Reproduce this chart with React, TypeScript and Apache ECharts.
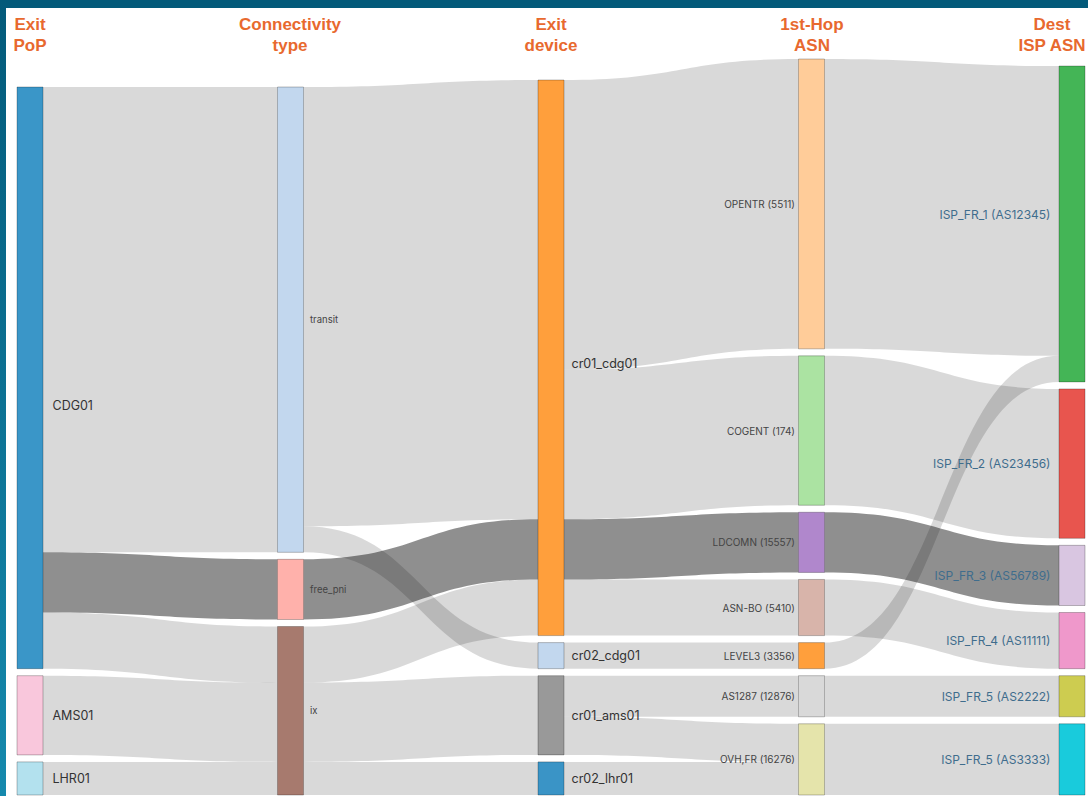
import React, { useEffect, useRef } from "react";
import * as echarts from "echarts";

// ---- data ----
const columnTitles = ["Exit\nPoP", "Connectivity\ntype", "Exit\ndevice", "1st-Hop\nASN", "Dest\nISP ASN"];
const exitPops = ["CDG01", "AMS01", "LHR01"];
const connectivityTypes = ["transit", "free_pni", "ix"];
const exitDevices = ["cr01_cdg01", "cr02_cdg01", "cr01_ams01", "cr02_lhr01"];
const firstHopAsns = [
  "OPENTR (5511)",
  "COGENT (174)",
  "LDCOMN (15557)",
  "ASN-BO (5410)",
  "LEVEL3 (3356)",
  "AS1287 (12876)",
  "OVH,FR (16276)",
];
const destIspAsns = [
  "ISP_FR_1 (AS12345)",
  "ISP_FR_2 (AS23456)",
  "ISP_FR_3 (AS56789)",
  "ISP_FR_4 (AS11111)",
  "ISP_FR_5 (AS2222)",
  "ISP_FR_5 (AS3333)",
];

const flowSources = [
  "CDG01", "CDG01", "CDG01", "AMS01", "LHR01",
  "transit", "transit", "free_pni", "ix", "ix", "ix",
  "cr01_cdg01", "cr01_cdg01", "cr01_cdg01", "cr01_cdg01", "cr02_cdg01", "cr01_ams01", "cr01_ams01", "cr02_lhr01",
  "OPENTR (5511)", "LEVEL3 (3356)", "COGENT (174)", "LDCOMN (15557)", "ASN-BO (5410)", "AS1287 (12876)", "OVH,FR (16276)",
];
const flowTargets = [
  "transit", "free_pni", "ix", "ix", "ix",
  "cr01_cdg01", "cr02_cdg01", "cr01_cdg01", "cr01_cdg01", "cr01_ams01", "cr02_lhr01",
  "OPENTR (5511)", "COGENT (174)", "LDCOMN (15557)", "ASN-BO (5410)", "LEVEL3 (3356)", "AS1287 (12876)", "OVH,FR (16276)", "OVH,FR (16276)",
  "ISP_FR_1 (AS12345)", "ISP_FR_1 (AS12345)", "ISP_FR_2 (AS23456)", "ISP_FR_3 (AS56789)", "ISP_FR_4 (AS11111)", "ISP_FR_5 (AS2222)", "ISP_FR_5 (AS3333)",
];
const flowValues = [
  464, 60, 56, 79, 33,
  438, 26, 60, 56, 79, 33,
  289, 149, 60, 56, 26, 41, 38, 33,
  289, 26, 149, 60, 56, 41, 71,
];
// the highlighted path (CDG01 -> free_pni -> cr01_cdg01 -> LDCOMN -> ISP_FR_3)
const highlightedPath = ["CDG01", "free_pni", "cr01_cdg01", "LDCOMN (15557)", "ISP_FR_3 (AS56789)"];

// ---- styles ----
const columnColors = [
  ["#3a96c8", "#f9c7dc", "#b3e1ee"],
  ["#c2d7ee", "#ffb1ab", "#a77a6e"],
  ["#ff9f3c", "#c2d7ee", "#999999", "#3a94c6"],
  ["#ffcc99", "#abe3a2", "#b087cc", "#d8b4aa", "#ff9f3c", "#d9d9d9", "#e5e4ab"],
  ["#44b556", "#e8554e", "#d9c6e1", "#ef98cb", "#cdcc50", "#19cbdc"],
];
const labelOffsets: Record<string, number[]> = {
  CDG01: [0, 28],
  cr01_cdg01: [0, 6],
  "ISP_FR_1 (AS12345)": [0, -9],
};

const columns = [exitPops, connectivityTypes, exitDevices, firstHopAsns, destIspAsns];

export default function App() {
  const ref = useRef<HTMLDivElement>(null);

  useEffect(() => {
    if (!ref.current) return;
    document.body.style.margin = "0";
    const chart = echarts.init(ref.current, undefined, { renderer: "svg" });

    // columns are bottom-aligned: shorter columns get empty, zero-height slots on top
    const maxLen = Math.max(...columns.map((c) => c.length));
    const nodes = columns.flatMap((col, depth) => [
      ...Array.from({ length: maxLen - col.length }, (_, k) => ({
        name: `__slot_${depth}_${k}`,
        depth,
        value: 0,
        itemStyle: { color: "transparent", borderWidth: 0, opacity: 0 },
        label: { show: false },
      })),
      ...col.map((name, i) => ({
        name,
        depth,
        itemStyle: { color: columnColors[depth][i] },
        ...(labelOffsets[name] ? { label: { offset: labelOffsets[name] } } : {}),
      })),
    ]);

    const isHighlighted = (s: string, t: string) => {
      const i = highlightedPath.indexOf(s);
      return i >= 0 && highlightedPath[i + 1] === t;
    };

    const links = flowValues.map((value, i) => ({
      source: flowSources[i],
      target: flowTargets[i],
      value,
      lineStyle: isHighlighted(flowSources[i], flowTargets[i])
        ? { color: "#000", opacity: 0.44 }
        : { color: "#000", opacity: 0.15 },
    }));

    const fontFamily = "Inter, 'Noto Sans', sans-serif";
    const mkLabel = (position: string, size: number, color: string, dist: number) => ({
      show: true,
      position,
      distance: dist,
      fontSize: size,
      color,
      fontFamily,
    });

    const colCenters = [30, 290, 551, 812, 1052];

    chart.setOption({
      animation: false,
      backgroundColor: "#ffffff",
      graphic: [
        { type: "rect", shape: { x: 0, y: 0, width: 1088, height: 8 }, style: { fill: "#035a7a" }, z: 10 },
        {
          type: "rect",
          shape: { x: 0, y: 0, width: 6, height: 796 },
          style: {
            fill: new echarts.graphic.LinearGradient(0, 0, 0, 1, [
              { offset: 0, color: "#035a7a" },
              { offset: 1, color: "#1589ad" },
            ]),
          },
          z: 10,
        },
        ...columnTitles.map((t, i) => ({
          type: "text",
          x: colCenters[i],
          y: 14,
          z: 10,
          style: {
            text: t,
            textAlign: "center",
            fill: "#e8692e",
            font: "bold 17px 'Liberation Sans', Arial, sans-serif",
            lineHeight: 21,
          },
        })),
      ],
      series: [
        {
          type: "sankey",
          left: 17,
          right: 3,
          top: 59,
          bottom: 1,
          nodeWidth: 26,
          nodeGap: 7,
          layoutIterations: 0,
          draggable: false,
          emphasis: { disabled: true },
          data: nodes,
          links,
          itemStyle: { borderColor: "rgba(0,0,0,0.25)", borderWidth: 1 },
          lineStyle: { curveness: 0.5 },
          levels: [
            { depth: 0, label: mkLabel("right", 12.5, "#333333", 9) },
            { depth: 1, label: mkLabel("right", 9.5, "#444444", 6) },
            { depth: 2, label: mkLabel("right", 12.5, "#333333", 7) },
            { depth: 3, label: mkLabel("left", 10, "#444444", 3) },
            { depth: 4, label: mkLabel("left", 12, "#3f6d8d", 8) },
          ],
        },
      ],
    });

    return () => chart.dispose();
  }, []);

  return (
    <div
      ref={ref}
      style={{ position: "fixed", left: 0, top: 0, width: 1088, height: 796, background: "#fff" }}
    />
  );
}
